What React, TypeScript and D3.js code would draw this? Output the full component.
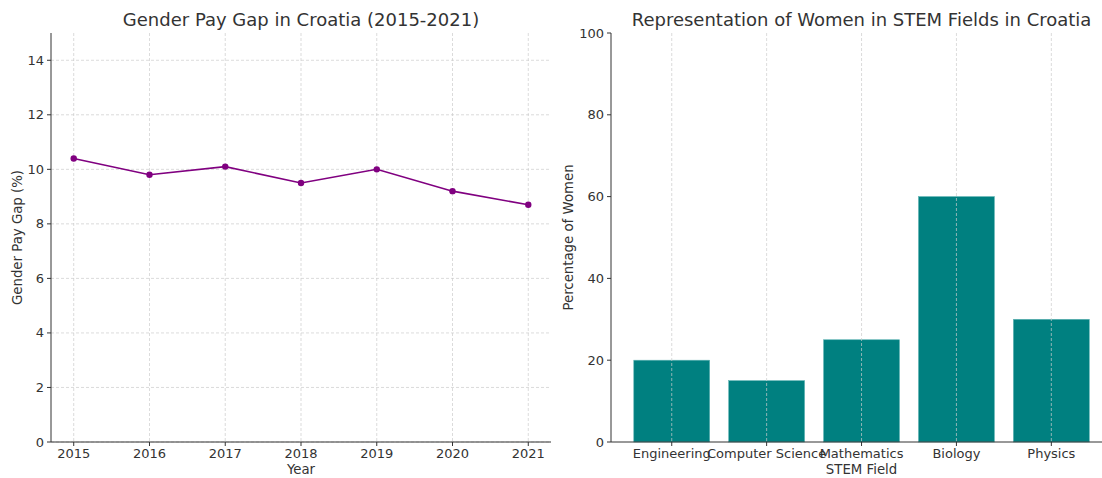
import React from "react";
import * as d3 from "d3";

const years = [2015, 2016, 2017, 2018, 2019, 2020, 2021];
const payGap = [10.4, 9.8, 10.1, 9.5, 10.0, 9.2, 8.7];
const leftYTicks = [0, 2, 4, 6, 8, 10, 12, 14];

const fields = ["Engineering", "Computer Science", "Mathematics", "Biology", "Physics"];
const womenPct = [20, 15, 25, 60, 30];
const rightYTicks = [0, 20, 40, 60, 80, 100];

const FONT = "DejaVu Sans, sans-serif";
const TXT = "#333333";
const GRID = "#cccccc";

export default function App() {
  const W = 1102, H = 478;
  const top = 33, bottom = 442;

  // Left chart
  const lx0 = 51, lx1 = 551;
  const xL = d3.scaleLinear().domain([2014.7, 2021.3]).range([lx0, lx1]);
  const yL = d3.scaleLinear().domain([0, 15]).range([bottom, top]);
  const line = d3.line<number>().x((_, i) => xL(years[i])).y((d) => yL(d));

  // Right chart
  const rx0 = 611;
  const step = 94.9;
  const xR = d3.scaleLinear().domain([-0.64, 4.64]).range([rx0, rx0 + 5.28 * step]);
  const yR = d3.scaleLinear().domain([0, 100]).range([bottom, top]);
  const bw = 0.8;

  const tickFs = 13;
  const labelFs = 13.3;
  const titleFs = 18;

  return (
    <svg width={W} height={H} style={{ position: "absolute", left: 0, top: 0, background: "#fff" }} fontFamily={FONT}>
      <rect x={0} y={0} width={W} height={H} fill="#fff" />
      {/* LEFT */}
      <g>
        {years.map((y) => (
          <line key={"gx" + y} x1={xL(y)} x2={xL(y)} y1={top} y2={bottom} stroke={GRID} strokeWidth={0.7} strokeDasharray="3,2" />
        ))}
        {leftYTicks.map((t) => (
          <line key={"gy" + t} x1={lx0} x2={lx1} y1={yL(t)} y2={yL(t)} stroke={GRID} strokeWidth={0.7} strokeDasharray="3,2" />
        ))}
        <path d={line(payGap) || ""} fill="none" stroke="#800080" strokeWidth={1.6} />
        {payGap.map((v, i) => (
          <circle key={"c" + i} cx={xL(years[i])} cy={yL(v)} r={3.2} fill="#800080" />
        ))}
        <line x1={lx0} x2={lx0} y1={top} y2={bottom} stroke={TXT} strokeWidth={1} />
        <line x1={lx0} x2={lx1} y1={bottom} y2={bottom} stroke={TXT} strokeWidth={1} />
        {leftYTicks.map((t) => (
          <g key={"ly" + t}>
            <line x1={lx0 - 4} x2={lx0} y1={yL(t)} y2={yL(t)} stroke={TXT} />
            <text x={lx0 - 7} y={yL(t)} dy="0.35em" textAnchor="end" fontSize={tickFs} fill={TXT}>{t}</text>
          </g>
        ))}
        {years.map((y) => (
          <g key={"lx" + y}>
            <line x1={xL(y)} x2={xL(y)} y1={bottom} y2={bottom + 4} stroke={TXT} />
            <text x={xL(y)} y={bottom + 16} textAnchor="middle" fontSize={tickFs} fill={TXT}>{y}</text>
          </g>
        ))}
        <text x={(lx0 + lx1) / 2} y={474} textAnchor="middle" fontSize={labelFs} fill={TXT}>Year</text>
        <text transform={`translate(22,${(top + bottom) / 2}) rotate(-90)`} textAnchor="middle" fontSize={labelFs} fill={TXT}>Gender Pay Gap (%)</text>
        <text x={(lx0 + lx1) / 2} y={26} textAnchor="middle" fontSize={titleFs} fill={TXT}>Gender Pay Gap in Croatia (2015-2021)</text>
      </g>
      {/* RIGHT */}
      <g>
        {fields.map((f, i) => (
          <rect key={"b" + f} x={xR(i - bw / 2)} y={yR(womenPct[i])} width={xR(bw) - xR(0)} height={bottom - yR(womenPct[i])} fill="#008080" stroke="#5fb3b3" strokeWidth={0.6} />
        ))}
        {fields.map((f, i) => (
          <line key={"rg" + f} x1={xR(i)} x2={xR(i)} y1={top} y2={bottom} stroke={GRID} strokeWidth={0.7} strokeDasharray="3,2" />
        ))}
        <line x1={rx0} x2={rx0} y1={top} y2={bottom} stroke={TXT} strokeWidth={1} />
        <line x1={rx0} x2={W} y1={bottom} y2={bottom} stroke={TXT} strokeWidth={1} />
        {rightYTicks.map((t) => (
          <g key={"ry" + t}>
            <line x1={rx0 - 4} x2={rx0} y1={yR(t)} y2={yR(t)} stroke={TXT} />
            <text x={rx0 - 7} y={yR(t)} dy="0.35em" textAnchor="end" fontSize={tickFs} fill={TXT}>{t}</text>
          </g>
        ))}
        {fields.map((f, i) => (
          <g key={"rx" + f}>
            <line x1={xR(i)} x2={xR(i)} y1={bottom} y2={bottom + 4} stroke={TXT} />
            <text x={xR(i)} y={bottom + 16} textAnchor="middle" fontSize={tickFs} fill={TXT}>{f}</text>
          </g>
        ))}
        <text x={xR(2)} y={474} textAnchor="middle" fontSize={labelFs} fill={TXT}>STEM Field</text>
        <text transform={`translate(573,${(top + bottom) / 2}) rotate(-90)`} textAnchor="middle" fontSize={labelFs} fill={TXT}>Percentage of Women</text>
        <text x={xR(2)} y={26} textAnchor="middle" fontSize={titleFs} fill={TXT}>Representation of Women in STEM Fields in Croatia</text>
      </g>
    </svg>
  );
}
